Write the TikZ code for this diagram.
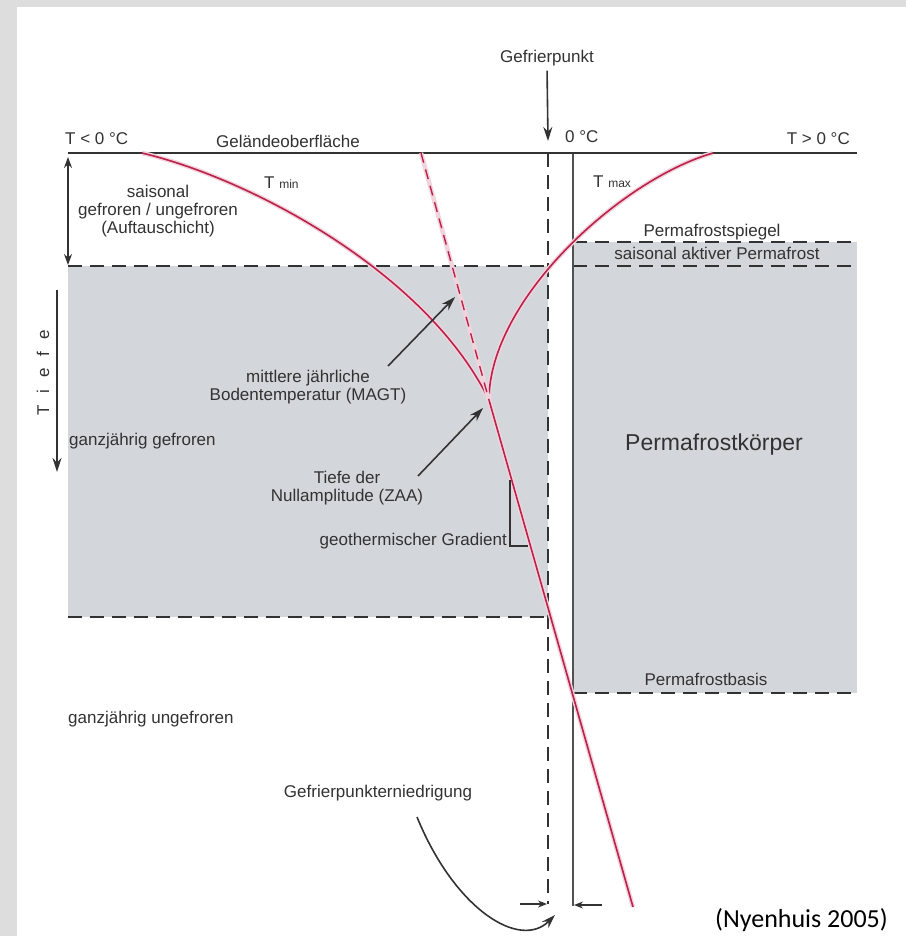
\documentclass[tikz,border=0pt]{standalone}
\usepackage{fontspec}
\setmainfont{Liberation Sans}
\newfontfamily\citefont{Carlito}
\usetikzlibrary{arrows.meta}

\definecolor{frost}{RGB}{211,215,220}
\definecolor{curve}{RGB}{186,34,76}
\definecolor{ink}{RGB}{50,50,50}
\definecolor{frame}{RGB}{221,221,221}

\tikzset{
  lbl/.style={font=\fontsize{17}{18}\selectfont, text=ink, inner sep=0pt},
  limit/.style={draw=ink, line width=2.4pt, dash pattern=on 14pt off 8pt},
  temp/.style={draw=curve, line width=1.6pt, preaction={draw=curve!20, line width=4.5pt}},
  pointer/.style={draw=ink, line width=1.6pt, -{Stealth[length=14pt,width=9pt]}},
  twoway/.style={draw=ink, line width=1.6pt, {Stealth[length=11pt,width=8pt]}-{Stealth[length=11pt,width=8pt]}},
  nudge/.style={draw=ink, line width=1.4pt, -{Stealth[length=9pt,width=7pt]}},
}

\begin{document}
\begin{tikzpicture}[x=1pt, y=-1pt]
\useasboundingbox (0,0) rectangle (906,936);
\fill[frame] (0,0) rectangle (906,7);
\fill[frame] (0,0) rectangle (17,936);

% frozen ground
\fill[frost] (68,266) rectangle (548,617);
\fill[frost] (573,242) rectangle (857,693);

\coordinate (surfL) at (68,153);
\coordinate (surfR) at (857,153);
\coordinate (fpTop) at (548,153);
\coordinate (fpBot) at (548,904);
\coordinate (zeroTop) at (573,153);
\coordinate (zeroBot) at (573,906);
\coordinate (zaa) at (489,400);

% layer limits
\draw[limit] (68,266) -- (548,266);
\draw[limit] (68,617) -- (548,617);
\draw[limit] (573,242) -- (857,242);
\draw[limit] (573,266) -- (857,266);
\draw[limit] (573,693) -- (857,693);
\draw[limit, line width=2pt] (fpTop) -- (fpBot);
\draw[ink!85, line width=1.5pt] (zeroTop) -- (zeroBot);
\draw[ink, line width=2pt] (surfL) -- (surfR);

% temperature envelope
\draw[temp] (142,153) .. controls (255,180) and (428,275) .. (zaa) -- (633,907);
\draw[temp] (zaa) .. controls (489,300) and (620,180) .. (713,153);
\draw[temp, dash pattern=on 10pt off 7pt, line width=1.4pt] (421,153) -- (zaa);

% labels
\node[lbl, anchor=base] (gp) at (547,63) {Gefrierpunkt};
\node[lbl, anchor=base west] (tneg) at (65,145) {T < 0 °C};
\node[lbl, anchor=base] (surf) at (288,148) {Geländeoberfläche};
\node[lbl, anchor=base west] (zero) at (565,143) {0 °C};
\node[lbl, anchor=base east] (tpos) at (850,145) {T > 0 °C};
\node[lbl, anchor=base west] (tmin) at (264,189) {T {\fontsize{12}{12}\selectfont min}};
\node[lbl, anchor=base west] (tmax) at (593,187) {T {\fontsize{12}{12}\selectfont max}};
\node[lbl, align=center] (auftau) at (158,211) {saisonal\\gefroren / ungefroren\\(Auftauschicht)};
\node[lbl, rotate=90] (tiefe) at (43,373) {T\hspace{12pt}i\hspace{12pt}e\hspace{12pt}f\hspace{12pt}e};
\node[lbl, anchor=base west] (gfro) at (69,445) {ganzjährig gefroren};
\node[lbl, align=center] (magt) at (308,387) {mittlere jährliche\\Bodentemperatur (MAGT)};
\node[lbl, align=center] (zaalbl) at (347,488) {Tiefe der\\Nullamplitude (ZAA)};
\node[lbl, anchor=base east] (grad) at (507,545) {geothermischer Gradient};
\node[lbl, anchor=base] (spiegel) at (712,236) {Permafrostspiegel};
\node[lbl, anchor=base] (aktiv) at (717,259) {saisonal aktiver Permafrost};
\node[lbl, anchor=base, font=\fontsize{23}{24}\selectfont] (koerper) at (714,450) {Permafrostkörper};
\node[lbl, anchor=base] (basis) at (706,685) {Permafrostbasis};
\node[lbl, anchor=base west] (ungfro) at (68,723) {ganzjährig ungefroren};
\node[lbl, anchor=base] (fpe) at (378,797) {Gefrierpunkterniedrigung};
\node[anchor=base east, inner sep=0pt, font=\citefont\fontsize{26}{28}\selectfont] (cite) at (888,927) {(Nyenhuis 2005)};

% arrows
\draw[pointer, shorten <=4pt] (gp.south) -- (548,141);
\draw[twoway] (68,157) -- (68,265);
\draw[pointer] (57,290) -- (57,472);
\draw[pointer] (388,366) -- (455,297);
\draw[pointer] (418,476) -- (483,408);
\draw[ink, line width=1.2pt] (510,480) |- (528,546);
\draw[nudge] (520,904) -- (547,904);
\draw[nudge] (602,905) -- (574,905);
\draw[pointer] (417,817) .. controls (455,910) and (520,950) .. (555,915);
\end{tikzpicture}
\end{document}
